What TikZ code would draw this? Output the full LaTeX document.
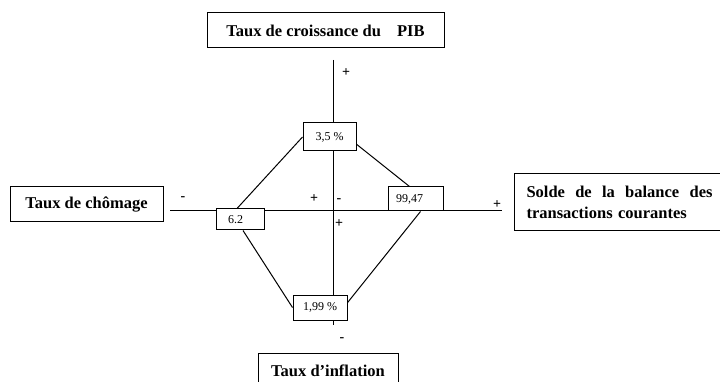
\documentclass[tikz,border=0pt]{standalone}
\usepackage{fontspec}
\setmainfont{Liberation Serif}
\tikzset{
  titlebox/.style={draw, line width=1pt, fill=white, inner sep=0pt,
    font=\fontsize{16.5}{21}\selectfont\bfseries},
  valbox/.style={draw, line width=1pt, fill=white, inner sep=0pt,
    font=\fontsize{12}{14}\selectfont},
  sign/.style={inner sep=0pt, font=\fontsize{14}{14}\selectfont\bfseries},
}
\begin{document}
\begin{tikzpicture}[x=1pt,y=-1pt,line width=1pt]
\useasboundingbox[fill=white] (0,0) rectangle (720,382);
% axes
\coordinate (vtop) at (333,60);
\coordinate (vbot) at (333,325);
\coordinate (hleft) at (170,211);
\coordinate (hright) at (502,211);
\draw (vtop) -- (vbot);
\draw (hleft) -- (hright);
% the four variables
\node[titlebox, minimum width=237pt, minimum height=35pt] (pib) at (325.5,30.5) {Taux de croissance du\hspace{12pt} PIB};
\node[titlebox, minimum width=153pt, minimum height=35pt] (chom) at (86.5,204.5) {Taux de chômage};
\node[titlebox, anchor=north west, minimum height=57pt, text width=206pt, inner xsep=12pt, align=left] (solde) at (514,173) {\hbox to 186pt{Solde\hfill de\hfill la\hfill balance\hfill des}\\transactions courantes};
\node[titlebox, minimum width=140pt, minimum height=35pt] (infl) at (328,370.5) {Taux d’inflation};
% values
\node[valbox, minimum width=53pt, minimum height=28pt] (v35) at (329.5,137) {3,5 \%};
\node[valbox, minimum height=21pt, text width=24pt, inner xsep=12pt, align=left] (v62) at (240,219.5) {6.2};
\node[valbox, minimum height=24pt, text width=39pt, inner xsep=8pt, align=left] (v9947) at (415.5,199) {99,47};
\node[valbox, minimum width=54pt, minimum height=25pt] (v199) at (320,307.5) {1,99 \%};
% the diamond
\draw (v35.west) -- ([xshift=-3pt]v62.north);
\draw (v35.-15) -- ([xshift=-6pt]v9947.north);
\draw ([xshift=3pt]v62.south) -- (v199.west);
\draw ([xshift=5pt]v9947.south) -- (v199.10);
% signs
\node[sign] (s1) at (346,73) {+};
\node[sign] (s2) at (314,199) {+};
\node[sign] (s3) at (339,201) {-};
\node[sign] (s4) at (339,224) {+};
\node[sign] (s5) at (497,205) {+};
\node[sign] (s6) at (183,199) {-};
\node[sign] (s7) at (342,340) {-};
\end{tikzpicture}
\end{document}
